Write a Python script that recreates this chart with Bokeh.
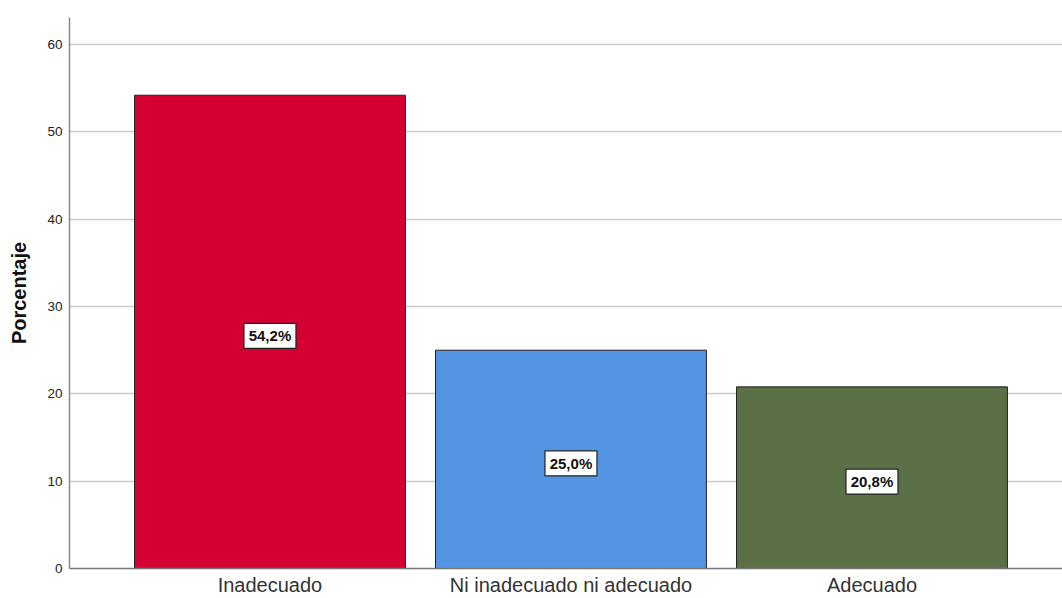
from bokeh.plotting import figure
from bokeh.models import ColumnDataSource, Range1d, FixedTicker, LabelSet
from bokeh.core.properties import value
from bokeh.transform import dodge
from bokeh.embed import file_html
from bokeh.resources import INLINE

categories = ["Inadecuado", "Ni inadecuado ni adecuado", "Adecuado"]
percentages = [54.2, 25.0, 20.8]
bar_colors = ["#D50032", "#5495E3", "#5C7048"]
y_ticks = [0, 10, 20, 30, 40, 50, 60]

xs = list(range(len(categories)))
labels = [f"{v:.1f}".replace(".", ",") + "%" for v in percentages]
source = ColumnDataSource(dict(
    x=xs, top=percentages, color=bar_colors,
    mid=[v / 2 for v in percentages], label=labels,
))

p = figure(width=1062, height=598, output_backend="svg", toolbar_location=None,
           x_range=Range1d(-0.666, 2.633), y_range=Range1d(0, 63.1),
           min_border_left=69, min_border_right=0, min_border_top=17,
           min_border_bottom=30, background_fill_color="white",
           border_fill_color="white")
p.outline_line_color = None

p.vbar(x="x", top="top", width=0.9, bottom=0, fill_color="color",
       line_color="#222222", line_width=1, source=source)

# value label boxes (drawn slightly below the bar's mid height)
p.rect(x="x", y=dodge("mid", -0.45, range=p.y_range), width=52, height=25,
       width_units="screen", height_units="screen", fill_color="white",
       line_color="#222222", line_width=1.2, source=source)
lbl = LabelSet(x="x", y="mid", y_offset=-4, text="label", source=source,
               text_align="center", text_baseline="middle",
               text_font=value("Liberation Sans"), text_font_style="bold",
               text_font_size="15px", text_color="#111111")
p.add_layout(lbl)

# axes
p.xaxis.ticker = FixedTicker(ticks=xs)
p.xaxis.major_label_overrides = {i: c for i, c in enumerate(categories)}
p.xaxis.major_label_text_font = "Liberation Sans"
p.xaxis.major_label_text_font_size = "20px"
p.xaxis.major_label_text_color = "#333333"
p.xaxis.major_tick_line_color = None
p.xaxis.major_tick_out = 0
p.xaxis.major_tick_in = 0
p.xaxis.minor_tick_line_color = None
p.xaxis.minor_tick_out = 0
p.xaxis.axis_line_color = "#777777"
p.xaxis.axis_line_width = 1.5
p.xaxis.major_label_standoff = 5

p.yaxis.ticker = FixedTicker(ticks=y_ticks)
p.yaxis.major_label_text_font = "Liberation Sans"
p.yaxis.major_label_text_font_size = "13.5px"
p.yaxis.major_label_text_color = "#222222"
p.yaxis.major_tick_line_color = None
p.yaxis.major_tick_out = 0
p.yaxis.major_tick_in = 0
p.yaxis.minor_tick_line_color = None
p.yaxis.minor_tick_out = 0
p.yaxis.axis_line_color = "#888888"
p.yaxis.axis_line_width = 1.5
p.yaxis.major_label_standoff = 7
p.yaxis.axis_label = "Porcentaje"
p.yaxis.axis_label_text_font = "Liberation Sans"
p.yaxis.axis_label_text_font_style = "bold"
p.yaxis.axis_label_text_font_size = "20px"
p.yaxis.axis_label_text_color = "#111111"
p.yaxis.axis_label_standoff = 14

p.xgrid.grid_line_color = None
p.ygrid.ticker = FixedTicker(ticks=y_ticks[1:])
p.ygrid.grid_line_color = "#cccccc"
p.ygrid.grid_line_width = 1.5

open("out.html", "w").write(file_html(p, INLINE))
